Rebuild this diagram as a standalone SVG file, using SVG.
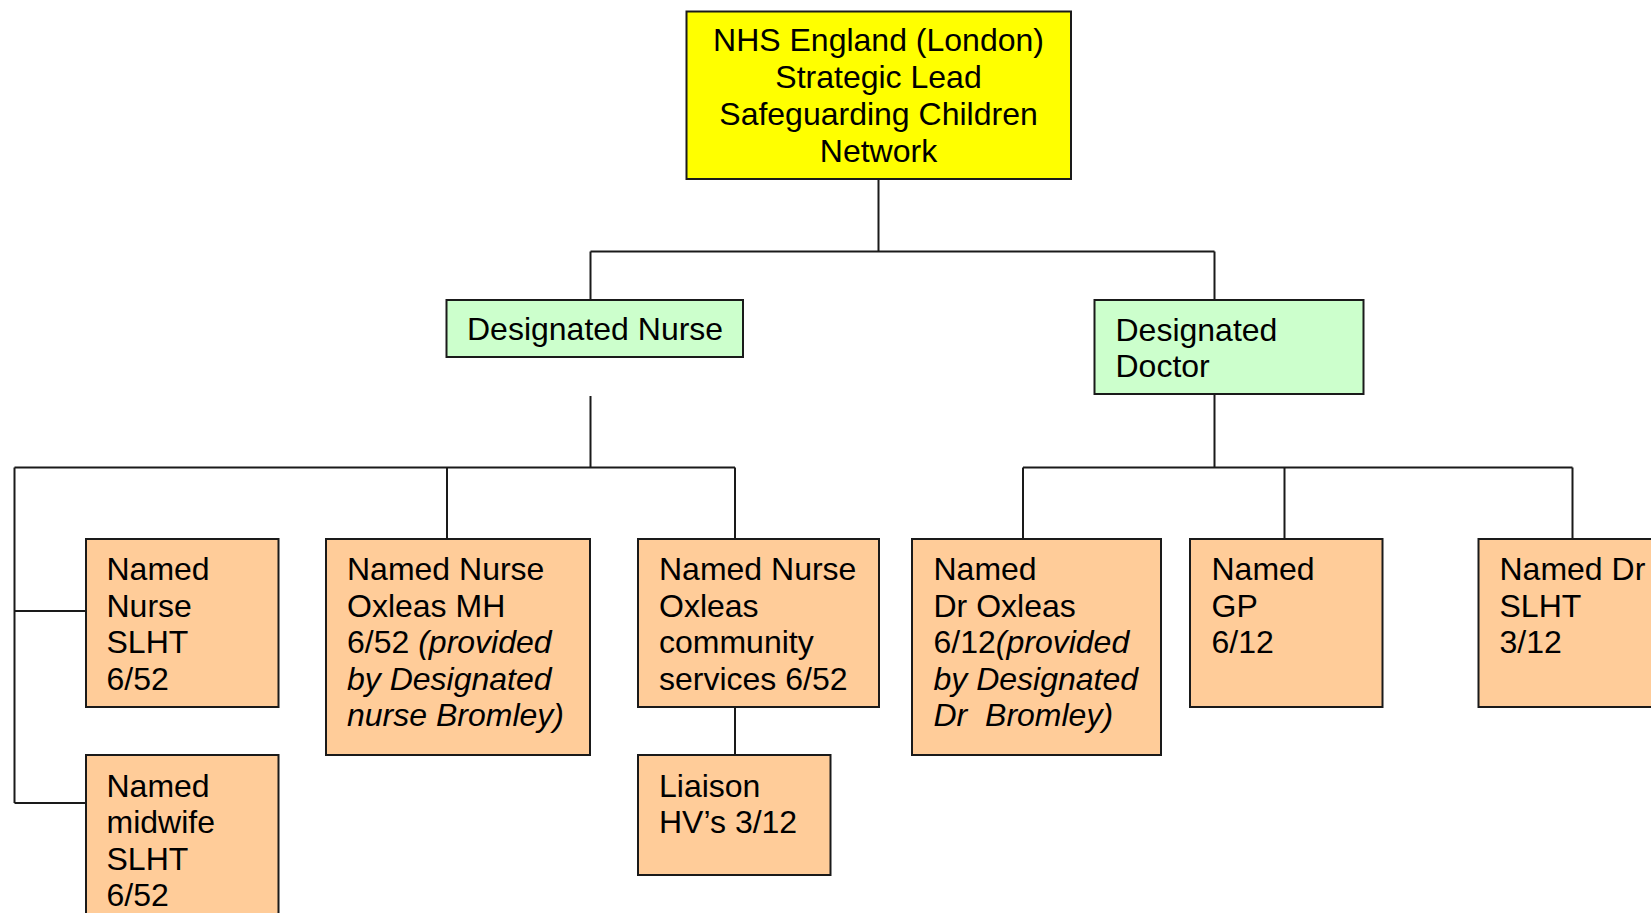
<svg xmlns="http://www.w3.org/2000/svg" width="1651" height="913" viewBox="0 0 1651 913">
<style>
text{font-family:"Liberation Sans",Arial,sans-serif;font-size:32px;fill:#000}
.c{text-anchor:middle}
.i{font-style:italic}
.box{stroke:#1a1a1a;stroke-width:2}
.y{fill:#FFFF00}
.g{fill:#CCFFCC}
.o{fill:#FFCC99}
.ln{stroke:#1a1a1a;stroke-width:2;fill:none}
</style>
<rect width="1651" height="913" fill="#fff"/>
<g id="connectors">
<path class="ln" d="M878.5 179V251.5M590.5 251.5H1214.5M590.5 251.5V300M1214.5 251.5V300"/>
<path class="ln" d="M590.5 396V467.5M14.5 467.5H735M447 467.5V539M735 467.5V539M14.5 467.5V803M14.5 611H86M14.5 803H86"/>
<path class="ln" d="M735 707V755"/>
<path class="ln" d="M1214.5 394V467.5M1023 467.5H1572.5M1023 467.5V539M1284.5 467.5V539M1572.5 467.5V539"/>
</g>
<g id="n-nhs">
<rect class="box y" x="686.5" y="11.5" width="384.5" height="167.5"/>
<text class="c" x="878.5" y="50.5">NHS England (London)</text>
<text class="c" x="878.5" y="87.5">Strategic Lead</text>
<text class="c" x="878.5" y="124.5">Safeguarding Children</text>
<text class="c" x="878.5" y="161.5">Network</text>
</g>
<g id="n-dnurse">
<rect class="box g" x="446.5" y="300" width="296.5" height="57"/>
<text x="467" y="339.5">Designated Nurse</text>
</g>
<g id="n-ddoctor">
<rect class="box g" x="1094.5" y="300" width="269" height="94"/>
<text x="1115.5" y="340.5">Designated</text>
<text x="1115.5" y="376.5">Doctor</text>
</g>
<g id="n-nn-slht">
<rect class="box o" x="86" y="539" width="192.5" height="168"/>
<text x="106.5" y="580">Named</text>
<text x="106.5" y="616.5">Nurse</text>
<text x="106.5" y="653">SLHT</text>
<text x="106.5" y="689.5">6/52</text>
</g>
<g id="n-midwife">
<rect class="box o" x="86" y="755" width="192.5" height="180"/>
<text x="106.5" y="796.5">Named</text>
<text x="106.5" y="833">midwife</text>
<text x="106.5" y="869.5">SLHT</text>
<text x="106.5" y="906">6/52</text>
</g>
<g id="n-nn-mh">
<rect class="box o" x="326" y="539" width="264" height="216"/>
<text x="347" y="580">Named Nurse</text>
<text x="347" y="616.5">Oxleas MH</text>
<text x="347" y="653">6/52 <tspan class="i">(provided</tspan></text>
<text class="i" x="347" y="689.5">by Designated</text>
<text class="i" x="347" y="726">nurse Bromley)</text>
</g>
<g id="n-nn-comm">
<rect class="box o" x="638" y="539" width="241" height="168"/>
<text x="659" y="580">Named Nurse</text>
<text x="659" y="616.5">Oxleas</text>
<text x="659" y="653">community</text>
<text x="659" y="689.5">services 6/52</text>
</g>
<g id="n-liaison">
<rect class="box o" x="638" y="755" width="192.5" height="120"/>
<text x="659" y="796.5">Liaison</text>
<text x="659" y="833">HV’s 3/12</text>
</g>
<g id="n-dr-oxleas">
<rect class="box o" x="912" y="539" width="249" height="216"/>
<text x="933.5" y="580">Named</text>
<text x="933.5" y="616.5">Dr Oxleas</text>
<text x="933.5" y="653">6/12<tspan class="i">(provided</tspan></text>
<text class="i" x="933.5" y="689.5">by Designated</text>
<text class="i" x="933.5" y="726" xml:space="preserve">Dr  Bromley)</text>
</g>
<g id="n-gp">
<rect class="box o" x="1190" y="539" width="192.5" height="168"/>
<text x="1211.5" y="580">Named</text>
<text x="1211.5" y="616.5">GP</text>
<text x="1211.5" y="653">6/12</text>
</g>
<g id="n-dr-slht">
<rect class="box o" x="1478.5" y="539" width="190" height="168"/>
<text x="1499.5" y="580">Named Dr</text>
<text x="1499.5" y="616.5">SLHT</text>
<text x="1499.5" y="653">3/12</text>
</g>
</svg>
